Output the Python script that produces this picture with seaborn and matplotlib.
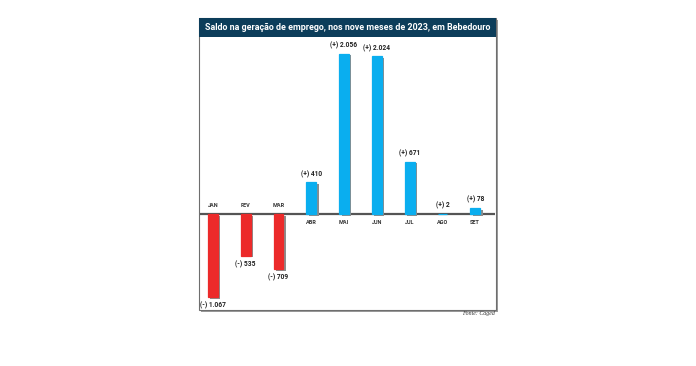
import matplotlib
matplotlib.use("Agg")
import matplotlib.pyplot as plt
import matplotlib.patheffects as pe
from matplotlib.patches import Rectangle
import seaborn as sns
import pandas as pd

months = ["JAN", "FEV", "MAR", "ABR", "MAI", "JUN", "JUL", "AGO", "SET"]
values = [-1067, -535, -709, 410, 2056, 2024, 671, 2, 78]
value_labels = ["(-) 1.067", "(-) 535", "(-) 709", "(+) 410", "(+) 2.056",
                "(+) 2.024", "(+) 671", "(+) 2", "(+) 78"]
title = "Saldo na geração de emprego, nos nove meses de 2023, em Bebedouro"
source = "Fonte: Caged"

BLUE = "#0aaeef"
RED = "#ec2a2a"
NAVY = "#0c3d5a"

sns.set_theme(style="white")
plt.rcParams['font.family'] = ['Roboto', 'DejaVu Sans']

W, H = 696, 366
fig = plt.figure(figsize=(W / 100, H / 100), dpi=100)

def fx(px):
    return px / W

def fy(py):
    return 1 - py / H

# panel frame
left, right, top, bottom = 199, 496, 18, 310
fig.patches.append(Rectangle((fx(left + 1.5), fy(bottom + 1.5)), fx(right - left), (bottom - top) / H,
                             transform=fig.transFigure, facecolor="#9a9a9a", edgecolor="none", zorder=0))
fig.patches.append(Rectangle((fx(left), fy(bottom)), fx(right - left), (bottom - top) / H,
                             transform=fig.transFigure, facecolor="white", edgecolor="#6e6e6e",
                             lw=0.8, zorder=1))
# title bar
fig.patches.append(Rectangle((fx(left), fy(37)), fx(right - left), (37 - top) / H,
                             transform=fig.transFigure, facecolor=NAVY, edgecolor="none", zorder=2))
fig.text(fx((left + right) / 2), fy(27.5), title, color="white", fontsize=6.4,
         fontweight="bold", ha="center", va="center", zorder=3)

ax_top, ax_bot = 38, 309
ax = fig.add_axes([fx(left + 1), fy(ax_bot), fx(right - left - 2), (ax_bot - ax_top) / H])
ax.set_zorder(4)
ax.patch.set_alpha(0)

df = pd.DataFrame({"month": months, "value": values})
colors = [RED if v < 0 else BLUE for v in values]
ax.axhline(0, color="#555555", lw=1.6, zorder=1)
sns.barplot(data=df, x="month", y="value", hue="month", palette=colors, legend=False,
            width=0.3, ax=ax, saturation=1, zorder=3)
for p, c in zip(ax.patches, colors):
    p.set_path_effects([pe.SimplePatchShadow(offset=(1.8, -1.2), shadow_rgbFace="#8c8c8c", alpha=1.0),
                        pe.Normal()])
    p.set_edgecolor(c)
    p.set_linewidth(0.9)
    p.set_zorder(3)

ax.set_xlim(-0.39, 8.6)
px_per_unit = 0.078
ax.set_ylim(-(ax_bot - 214) / px_per_unit, (214 - ax_top) / px_per_unit)

for i, (m, v, lab) in enumerate(zip(months, values, value_labels)):
    if v < 0:
        ax.annotate(m, (i, 0), xytext=(0, 4), textcoords="offset points", ha="center", va="bottom",
                    fontsize=4.0, fontweight="bold", color="#333333")
        ax.annotate(lab, (i, v), xytext=(0, -3), textcoords="offset points", ha="center", va="top",
                    fontsize=4.8, fontweight="bold", color="#222222")
    else:
        ax.annotate(m, (i, 0), xytext=(0, -4), textcoords="offset points", ha="center", va="top",
                    fontsize=4.0, fontweight="bold", color="#333333")
        ax.annotate(lab, (i, v), xytext=(0, 3), textcoords="offset points", ha="center", va="bottom",
                    fontsize=4.8, fontweight="bold", color="#222222")

ax.set_axis_off()

fig.text(fx(495), fy(313.5), source, fontsize=4.2, style="italic", family="Liberation Serif",
         ha="right", va="center", color="#333333")

fig.savefig("out.png", dpi=100)
